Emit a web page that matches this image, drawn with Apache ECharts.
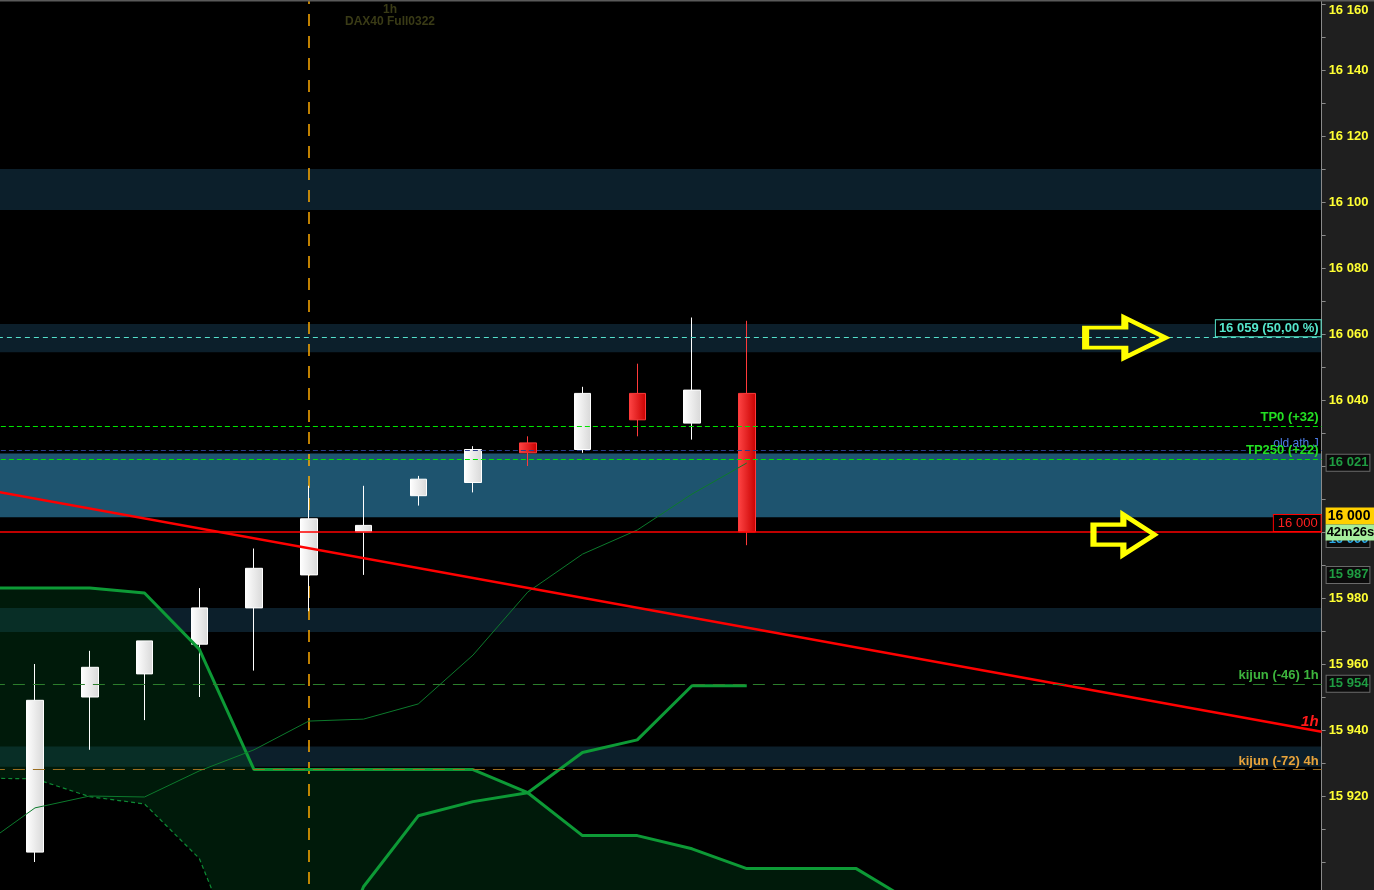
<!DOCTYPE html>
<html>
<head>
<meta charset="utf-8">
<script src="https://cdn.jsdelivr.net/npm/echarts@6/dist/echarts.min.js"></script>
<style>
html,body{margin:0;padding:0;background:#000;}
#chart{width:1374px;height:890px;}
</style>
</head>
<body>
<div id="chart"></div>
<script>
// ---------- data ----------
const categories = ['H0','H1','H2','H3','H4','H5','H6','H7','H8','H9','H10','H11','H12',
                    'H13','H14','H15','H16','H17','H18','H19','H20','H21','H22','H23','H24'];

const candleSlots = [1,2,3,4,5,6,7,8,9,10,11,12,13,14];
const openPrices  = [15903,15950,15957,15966,15977,15987,16000,16011,16015,16027,16025,16042,16033,16042];
const closePrices = [15949,15959,15967,15977,15989,16004,16002,16016,16025,16024,16042,16034,16043,16000];
const lowPrices   = [15900,15934,15943,15950,15958,15976,15987,16008,16012,16020,16024,16029,16028,15996];
const highPrices  = [15960,15964,15967,15983,15995,16014,16014,16017,16026,16029,16044,16051,16065,16064];

const senkouB = [15983,15983,15983,15981.5,15964.5,15928,15928,15928,15928,15928,15921,15908,15908,15904,15898,15898,15898,15888,
                 null,null,null,null,null,null,null];
const senkouA = [15925.4,15925.2,15919.8,15917.6,15901.1,15860,15850,15850,15850,15850,15850,15850,15850,15850,15850,15850,15850,15850,
                 null,null,null,null,null,null,null];
const kijun   = [null,null,null,null,null,null,15850,15892.5,15914,15918.3,15921,15933.2,15937,15953.4,15953.4,
                 null,null,null,null,null,null,null,null,null,null];
const tenkan  = [15904.5,15916.4,15920,15919.7,15927.6,15934,15942.7,15943.3,15947.9,15962.7,15981.8,15993.3,16000.6,16011.5,16020.9,
                 null,null,null,null,null,null,null,null,null,null];

const trendX = [-1.5, 23.5];
const trendY = [16014.6, 15939.5];

const bandLow   = [16097.6, 16054.5, 16004.5, 15969.7, 15928.9];
const bandHigh  = [16110,   16063,   16023.8, 15977,   15935];
const bandColor = ['#0c1f2b','#0c1f2b','#1e546f','#0c1f2b','#0c1f2b'];

const levelValues = [16059, 16032, 16024.7, 16022, 16000, 15954, 15928];
const levelTexts  = ['16 059 (50,00 %)','TP0 (+32)','old ath J','TP250 (+22)','16 000','kijun (-46) 1h','kijun (-72) 4h'];

const tagValues = [16021, 15987, 15954];
const tagTexts  = ['16 021','15 987','15 954'];
const lastPrice = 16000;
const timerText = '42m26s';

const markerCandle = 5;
const arrowX = [19.92, 19.89];
const arrowY = [16058.9, 15999.2];

const hiddenTickLabels = [15900];
const topTick = 16160;

// ---------- helpers ----------
const FONT = "'Liberation Sans', Arial, sans-serif";
function fmtPrice(v){
  const s = Math.round(v).toString();
  return s.slice(0, s.length-3) + ' ' + s.slice(-3);
}

const candleData = candleSlots.map((k,j)=>[k, openPrices[j], closePrices[j], lowPrices[j], highPrices[j]]);
const cloudFill = senkouB.map((b,k)=> (b==null || senkouA[k]==null) ? null : +(b - senkouA[k]).toFixed(2));
const trendData = trendX.map((x,j)=>{
  const item = {value:[x, trendY[j]]};
  if (j === trendX.length-1) {
    item.label = {show:true, formatter:'1h', position:'left', distance:3, offset:[0,-10],
      color:'#ff1a1a', fontStyle:'italic', fontWeight:'bold', fontSize:15, fontFamily:FONT};
  }
  return item;
});

const levelStyles = [
  {line:{color:'#55e0cc', type:[5,4], width:1},
   label:{color:'#55e6cc', fontWeight:'bold', fontSize:13, backgroundColor:'#000', borderColor:'#55e6cc', borderWidth:1, padding:[2,2,1,3], distance:[1,1]}},
  {line:{color:'#00e600', type:[5,3], width:1},
   label:{color:'#22e022', fontWeight:'bold', fontSize:13, distance:[3,2]}},
  {line:{color:'#2b3d8c', type:[5,3], width:1},
   label:{color:'#4b7de8', fontWeight:'normal', fontSize:12, distance:[3,1]}},
  {line:{color:'#00e600', type:[5,3], width:1},
   label:{color:'#22e022', fontWeight:'bold', fontSize:13, distance:[3,2]}},
  {line:{color:'#ff0000', type:'solid', width:1.5},
   label:{color:'#ff2020', fontWeight:'normal', fontSize:13, backgroundColor:'#000', borderColor:'#ff0000', borderWidth:1, padding:[2,3,1,4], distance:[1,1]}},
  {line:{color:'#2c7d2c', type:[12,8], width:1},
   label:{color:'#3db53d', fontWeight:'bold', fontSize:13, distance:[3,2]}},
  {line:{color:'#9a6d20', type:[12,8], width:1},
   label:{color:'#e8a33a', fontWeight:'bold', fontSize:13, distance:[3,2]}}
];

const levelLines = levelValues.map((v,j)=>({
  yAxis: v,
  lineStyle: levelStyles[j].line,
  label: Object.assign({show:true, position:'insideEndTop', formatter: levelTexts[j], fontFamily:FONT}, levelStyles[j].label)
}));

const INVISIBLE = {color:'rgba(0,0,0,0)', width:1, type:'solid'};
const tagLines = tagValues.map((v,j)=>({
  yAxis: v,
  lineStyle: INVISIBLE,
  label:{show:true, position:'end', distance:5, formatter: tagTexts[j], color:'#1f9d42', fontWeight:'bold', fontSize:13, fontFamily:FONT,
         backgroundColor:'#0b0b0b', borderColor:'#6a6a6a', borderWidth:1, padding:[2,1,1,2]}
}));

const hiddenTag = {
  yAxis: lastPrice, lineStyle: INVISIBLE,
  label:{show:true, position:'end', distance:5, offset:[0,7], formatter: fmtPrice(lastPrice), color:'#2aa8e8', fontWeight:'bold', fontSize:13, fontFamily:FONT,
         backgroundColor:'#0b0b0b', borderColor:'#6a6a6a', borderWidth:1, padding:[2,1,1,2]}
};
const priceTag = {
  yAxis: lastPrice, lineStyle: INVISIBLE,
  label:{show:true, position:'end', distance:4, offset:[0,-8],
    formatter: '{p|' + fmtPrice(lastPrice) + '}\n{t|' + timerText + '}',
    rich:{
      p:{color:'#000', backgroundColor:'#ffd000', fontWeight:'bold', fontSize:14, fontFamily:FONT, width:48, height:17, lineHeight:17, padding:[0,0,0,2]},
      t:{color:'#000', backgroundColor:'#a6ee9c', fontWeight:'bold', fontSize:13, fontFamily:FONT, width:48, height:16, lineHeight:16, padding:[0,0,0,1]}
    }}
};

const option = {
  backgroundColor:'#000',
  animation:false,
  grid:{left:-47.125, right:52.375, top:-62, bottom:-38, containLabel:false, outerBoundsMode:'none'},
  xAxis:[
    {type:'category', data:categories, boundaryGap:true, show:false},
    {type:'value', min:-1.5, max:23.5, show:false}
  ],
  yAxis:{
    type:'value', position:'right', min:15880, max:16180, interval:20,
    axisLine:{show:true, onZero:false, lineStyle:{color:'#8a8a8a', width:1}},
    axisTick:{show:true, inside:false, length:4, lineStyle:{color:'#8a8a8a'}},
    minorTick:{show:true, splitNumber:2, length:4, lineStyle:{color:'#8a8a8a'}},
    splitLine:{show:false},
    axisLabel:{
      color:'#ffff33', fontFamily:FONT, fontWeight:'bold', fontSize:13, margin:7,
      formatter:function(v){
        if (hiddenTickLabels.indexOf(v) >= 0) return '';
        if (v === topTick) return '{top|' + fmtPrice(v) + '}';
        return fmtPrice(v);
      },
      rich:{top:{color:'#ffff33', fontFamily:FONT, fontWeight:'bold', fontSize:13, padding:[12,0,0,0]}}
    }
  },
  graphic:[
    {type:'rect', right:0, top:0, z:-10, shape:{width:52.4, height:890}, style:{fill:'#1f1f1f'}},
    {type:'rect', left:0, top:0, z:10, shape:{width:1374, height:1.5}, style:{fill:'#5a5a5a'}},
    {type:'text', x:390, y:10, z:10, style:{text:'1h', align:'center', verticalAlign:'middle', fill:'#3a3b16', fontSize:12, fontWeight:'bold', fontFamily:FONT}},
    {type:'text', x:390, y:22, z:10, style:{text:'DAX40 Full0322', align:'center', verticalAlign:'middle', fill:'#3a3b16', fontSize:12, fontWeight:'bold', fontFamily:FONT}}
  ],
  series:[
    {
      name:'senkouA', type:'line', data:senkouA, stack:'cloud', symbol:'none', z:1,
      lineStyle:{color:'#0d8a34', width:1.2, type:[4,3]}
    },
    {
      name:'cloud', type:'line', data:cloudFill, stack:'cloud', symbol:'none', z:1,
      lineStyle:{opacity:0, width:0},
      areaStyle:{color:'rgba(0,80,30,0.33)', opacity:1}
    },
    {
      name:'price', type:'candlestick', data:candleData, encode:{x:0, y:[1,2,3,4]}, barWidth:17, z:3,
      itemStyle:{
        color:{type:'linear', x:0, y:0, x2:1, y2:0, colorStops:[{offset:0,color:'#ffffff'},{offset:1,color:'#d8d8d8'}]},
        color0:{type:'linear', x:0, y:0, x2:1, y2:0, colorStops:[{offset:0,color:'#ff4545'},{offset:1,color:'#c80000'}]},
        borderColor:'#ffffff', borderColor0:'#ff3a3a', borderWidth:1
      }
    },
    {
      name:'senkouB', type:'line', data:senkouB, symbol:'none', z:4,
      lineStyle:{color:'#0d9a36', width:3}
    },
    {
      name:'kijun', type:'line', data:kijun, symbol:'none', z:4,
      lineStyle:{color:'#0d9a36', width:3}
    },
    {
      name:'tenkan', type:'line', data:tenkan, symbol:'none', z:4,
      lineStyle:{color:'#0c7a2c', width:1},
      markLine:{silent:true, symbol:['none','none'], z:5, animation:false,
        data: levelLines.concat(tagLines, [hiddenTag, priceTag])}
    },
    {
      name:'trend', type:'line', xAxisIndex:1, data:trendData, symbol:'circle', symbolSize:0, showSymbol:true, z:4,
      lineStyle:{color:'#ff0000', width:2.5},
      itemStyle:{color:'#ff0000'},
      markArea:{silent:true, z:0,
        data: bandLow.map((lo,j)=>[{yAxis:lo, itemStyle:{color:bandColor[j]}}, {yAxis:bandHigh[j]}])},
      markLine:{silent:true, symbol:['none','none'], z:2, label:{show:false},
        data:[{xAxis: markerCandle, lineStyle:{color:'#ffaa00', type:[12,10], width:1.5}}]},
      markPoint:{silent:true, z:6,
        symbol:'path://M0,25L49,25L49,0L100,50L49,100L49,75L0,75Z',
        label:{show:false},
        itemStyle:{color:'rgba(0,0,0,0)', borderColor:'#ffff00', borderWidth:5},
        data:[
          {coord:[arrowX[0], arrowY[0]], symbolSize:[80,40]},
          {coord:[arrowX[1], arrowY[1]], symbolSize:[61,40]}
        ]}
    }
  ]
};

const chart = echarts.init(document.getElementById('chart'), null, {renderer:'canvas'});
chart.setOption(option);
</script>
</body>
</html>
